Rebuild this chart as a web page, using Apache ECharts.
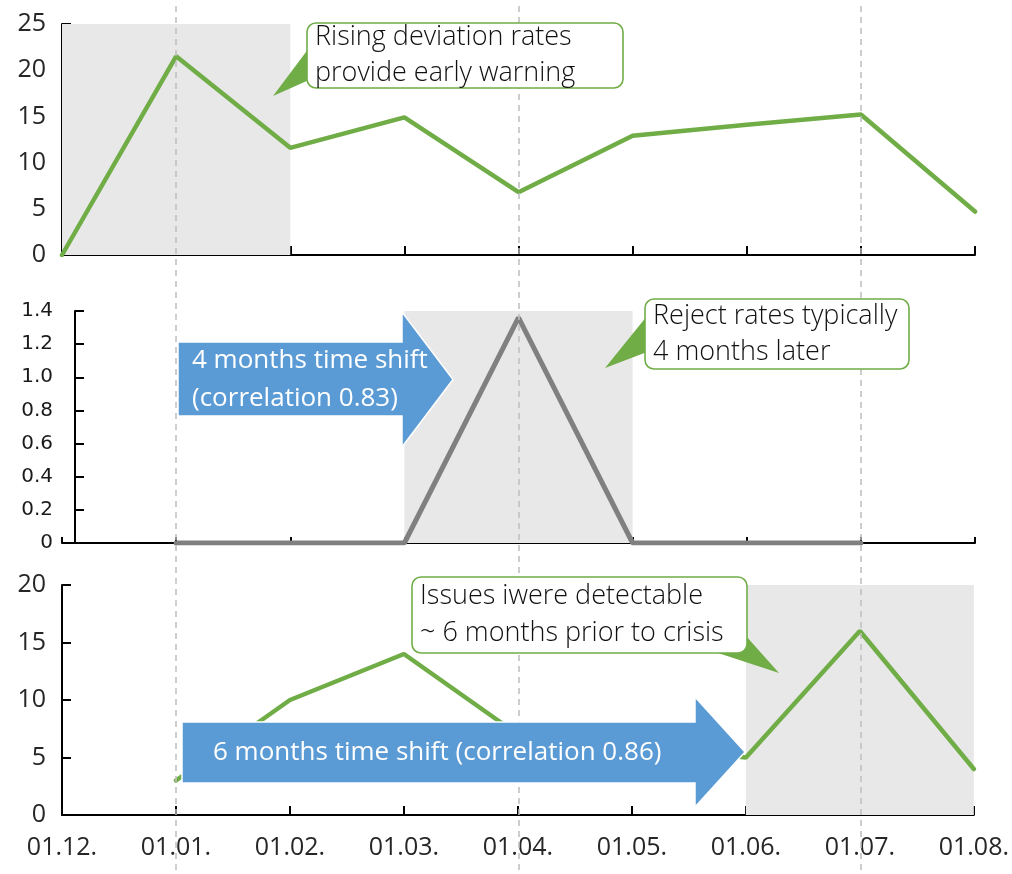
<!DOCTYPE html>
<html>
<head>
<meta charset="utf-8">
<script src="https://cdn.jsdelivr.net/npm/echarts@6/dist/echarts.min.js"></script>
<style>
  html, body { margin: 0; padding: 0; background: #fff; }
  #chart { width: 1012px; height: 874px; }
</style>
</head>
<body>
<div id="chart"></div>
<script>
// Months on the shared time axis
const months = ['01.12.', '01.01.', '01.02.', '01.03.', '01.04.', '01.05.', '01.06.', '01.07.', '01.08.'];

// Deviation rates (top), reject rates (middle), deviation rates shifted (bottom)
const deviationRates = [0, 21.5, 11.6, 14.9, 6.8, 12.9, 14.1, 15.2, 4.7];
const rejectRates = [null, 0, 0, 0, 1.36, 0, 0, 0, null];
const shiftedDeviation = [null, 3, 10, 14, 7, 6, 5, 16, 4];

// Months marked with a vertical guide across all panels
const guideMonths = ['01.01.', '01.04.', '01.07.'];

// Highlighted month ranges per panel
const topRange = ['01.12.', '01.02.'];
const midRange = ['01.03.', '01.05.'];
const bottomRange = ['01.06.', '01.08.'];

// Annotation texts
const topNote = ['Rising deviation rates', 'provide early warning'];
const midNote = ['Reject rates typically', '4 months later'];
const bottomNote = ['Issues iwere detectable', '~ 6 months prior to crisis'];
const midShift = ['4 months time shift', '(correlation 0.83)'];
const bottomShift = ['6 months time shift (correlation 0.86)'];

const FONT = "'Open Sans', 'Noto Sans', sans-serif";
const GREEN = '#70ad47';
const GREY_LINE = '#808080';
const SHADE = '#e8e8e8';
const BLUE = '#5b9bd5';

const axisLine = { show: true, lineStyle: { color: '#000', width: 2 } };

function xAxisFor(gridIndex, showLabels, tickLen) {
  return {
    type: 'category', gridIndex, data: months, boundaryGap: false,
    axisLine,
    axisTick: { show: true, inside: true, length: tickLen, alignWithLabel: true, lineStyle: { color: '#000', width: 2 } },
    axisLabel: showLabels
      ? { show: true, fontFamily: FONT, fontSize: 25, color: '#262626', margin: 18, lineHeight: 30 }
      : { show: false },
    splitLine: { show: false }
  };
}

function yAxisFor(gridIndex, max, interval, extra) {
  return Object.assign({
    type: 'value', gridIndex, min: 0, max, interval,
    axisLine,
    axisTick: { show: true, inside: true, length: 9, lineStyle: { color: '#000', width: 2 } },
    axisLabel: { fontFamily: FONT, fontSize: 25, color: '#262626', margin: 16 },
    splitLine: { show: false }
  }, extra || {});
}

function shade(range) {
  return {
    silent: true,
    itemStyle: { color: SHADE },
    data: [[{ xAxis: range[0] }, { xAxis: range[1] }]]
  };
}

function callout(box, pointer, lines, lineHeight) {
  const [x, y, w, h] = box;
  return [
    { type: 'polygon', z: 50, silent: true, shape: { points: pointer }, style: { fill: GREEN } },
    { type: 'rect', z: 51, silent: true, shape: { x, y, width: w, height: h, r: 9 },
      style: { fill: '#fff', stroke: GREEN, lineWidth: 1.6 } },
    { type: 'text', z: 52, silent: true, x: x + 8, y: y + h / 2,
      style: { text: lines.join('\n'), font: '300 27px ' + FONT, fill: '#111', lineHeight,
               verticalAlign: 'middle', align: 'left' } }
  ];
}

function shiftArrow(points, textX, textY, lines, lineHeight) {
  return [
    { type: 'polygon', z: 20, silent: true, shape: { points },
      style: { fill: BLUE, stroke: '#fff', lineWidth: 1.5 } },
    { type: 'text', z: 21, silent: true, x: textX, y: textY,
      style: { text: lines.join('\n'), font: '26px ' + FONT, fill: '#fff', lineHeight,
               verticalAlign: 'middle', align: 'left' } }
  ];
}

const chart = echarts.init(document.getElementById('chart'), null, { renderer: 'canvas' });

chart.setOption({
  animation: false,
  backgroundColor: '#fff',
  grid: [
    { left: 62, right: 37, top: 24, height: 231 },
    { left: 62, right: 37, top: 311, height: 232 },
    { left: 62, right: 37, top: 585, height: 230 },
    { left: 62, right: 37, top: 5, bottom: 4 }
  ],
  xAxis: [
    xAxisFor(0, false, 9),
    xAxisFor(1, false, 6),
    xAxisFor(2, true, 9),
    { type: 'category', gridIndex: 3, data: months, boundaryGap: false, show: false }
  ],
  yAxis: [
    yAxisFor(0, 25, 5),
    yAxisFor(1, 1.4, 0.2, {
      offset: -13,
      axisLabel: {
        fontFamily: "'DejaVu Sans', sans-serif", fontSize: 20, color: '#1a1a1a', margin: 22,
        formatter: v => (v === 0 ? '0' : v.toFixed(1))
      }
    }),
    yAxisFor(2, 20, 5),
    { type: 'value', gridIndex: 3, min: 0, max: 1, show: false }
  ],
  series: [
    {
      name: 'Deviation rates', type: 'line', xAxisIndex: 0, yAxisIndex: 0, z: 2,
      data: deviationRates, showSymbol: false, symbol: 'none',
      lineStyle: { color: GREEN, width: 4.5, cap: 'round' },
      markArea: shade(topRange)
    },
    {
      name: 'Reject rates', type: 'line', xAxisIndex: 1, yAxisIndex: 1, z: 2,
      data: rejectRates, showSymbol: false, symbol: 'none', connectNulls: false,
      lineStyle: { color: GREY_LINE, width: 5, cap: 'round' },
      markArea: shade(midRange)
    },
    {
      name: 'Deviation rates shifted', type: 'line', xAxisIndex: 2, yAxisIndex: 2, z: 2,
      data: shiftedDeviation, showSymbol: false, symbol: 'none',
      lineStyle: { color: GREEN, width: 4.5, cap: 'round' },
      markArea: shade(bottomRange)
    },
    {
      name: 'Guides', type: 'line', xAxisIndex: 3, yAxisIndex: 3, z: 30,
      data: months.map(() => null), showSymbol: false, silent: true,
      markLine: {
        silent: true, symbol: ['none', 'none'], label: { show: false },
        lineStyle: { color: '#bdbdbd', width: 1.5, type: [6, 5] },
        data: guideMonths.map(m => ({ xAxis: m }))
      }
    }
  ],
  graphic: {
    elements: [].concat(
      callout([307, 23, 316, 65], [[273, 96], [309, 48], [309, 80]], topNote, 36),
      callout([645, 299, 264, 70], [[605, 368], [647, 316], [647, 352]], midNote, 36),
      callout([412, 577, 335, 76], [[715, 652], [779, 673], [746, 636]], bottomNote, 37),
      shiftArrow([[178, 342], [402, 342], [402, 312], [453, 379.5], [402, 447], [402, 416], [178, 416]],
                 192, 380, midShift, 38),
      shiftArrow([[182, 722], [695, 722], [695, 697], [745, 752], [695, 807], [695, 783], [182, 783]],
                 213, 753, bottomShift, 30)
    )
  }
});
</script>
</body>
</html>
